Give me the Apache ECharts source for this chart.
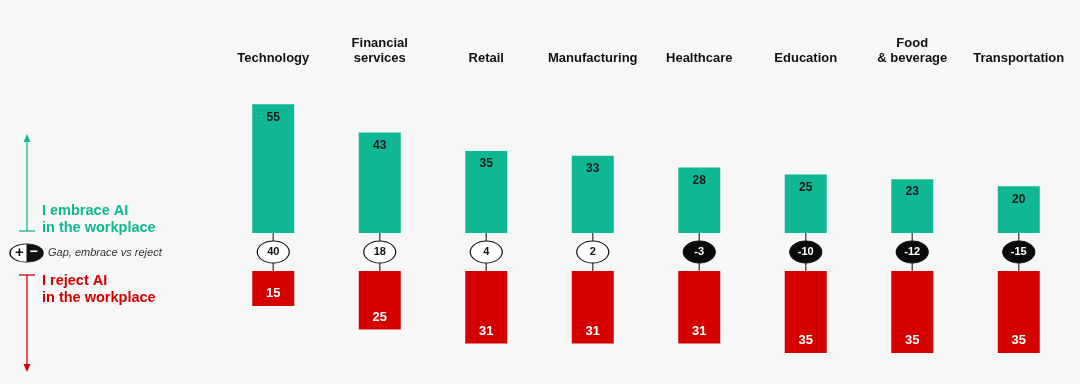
<!DOCTYPE html>
<html>
<head>
<meta charset="utf-8">
<script src="https://cdn.jsdelivr.net/npm/echarts@6/dist/echarts.min.js"></script>
<style>html,body{margin:0;padding:0;background:#f7f7f7;}#c{width:1080px;height:384px;}</style>
</head>
<body>
<div id="c"></div>
<script>
const categories = ['Technology', 'Financial\nservices', 'Retail', 'Manufacturing', 'Healthcare', 'Education', 'Food\n& beverage', 'Transportation'];
const embrace = [55, 43, 35, 33, 28, 25, 23, 20];
const reject = [15, 25, 31, 31, 31, 35, 35, 35];
const gap = [40, 18, 4, 2, -3, -10, -12, -15];
const connector = [1, 1, 1, 1, 1, 1, 1, 1];

const GREEN = '#0fb892';
const RED = '#d40000';
const FONT = 'Liberation Sans, Arial, sans-serif';
const ELLIPSE = 'path://M0,11 A16,11 0 1,1 32,11 A16,11 0 1,1 0,11 Z';

const chart = echarts.init(document.getElementById('c'), null, {renderer: 'canvas'});
const gridLeft = 220, gridWidth = 852;
const option = {
  backgroundColor: '#f7f7f7',
  animation: false,
  grid: [
    {left: gridLeft, width: gridWidth, top: 92.6, height: 140.4},
    {left: gridLeft, width: gridWidth, top: 233, height: 38},
    {left: gridLeft, width: gridWidth, top: 271, height: 93.6}
  ],
  xAxis: [
    {gridIndex: 0, type: 'category', data: categories, position: 'top',
      axisLine: {show: false}, axisTick: {show: false},
      axisLabel: {interval: 0, margin: 27, lineHeight: 15, verticalAlign: 'bottom',
        fontFamily: FONT, fontWeight: 'bold', fontSize: 13, color: '#111'}},
    {gridIndex: 1, type: 'category', data: categories, show: false},
    {gridIndex: 2, type: 'category', data: categories, show: false}
  ],
  yAxis: [
    {gridIndex: 0, type: 'value', min: 0, max: 60, show: false},
    {gridIndex: 1, type: 'value', min: 0, max: 1, show: false},
    {gridIndex: 2, type: 'value', min: 0, max: 40, inverse: true, show: false}
  ],
  series: [
    {type: 'bar', xAxisIndex: 0, yAxisIndex: 0, data: embrace, barWidth: 42,
      itemStyle: {color: GREEN},
      label: {show: true, position: 'insideTop', distance: 7, fontFamily: FONT,
        fontWeight: 'bold', fontSize: 12, color: '#1a1a1a'}},
    {type: 'bar', xAxisIndex: 2, yAxisIndex: 2, data: reject, barWidth: 42,
      itemStyle: {color: RED},
      label: {show: true, position: 'insideBottom', distance: 6, fontFamily: FONT,
        fontWeight: 'bold', fontSize: 13, color: '#fff'}},
    {type: 'bar', xAxisIndex: 1, yAxisIndex: 1, data: connector, barWidth: 1.5,
      itemStyle: {color: '#555'}, silent: true},
    {type: 'scatter', xAxisIndex: 1, yAxisIndex: 1, z: 5,
      symbol: ELLIPSE, symbolSize: [32, 22],
      data: gap.map((g, i) => ({
        value: [i, 0.5, g],
        itemStyle: {color: g >= 0 ? '#fff' : '#0a0a0a', borderColor: '#111', borderWidth: 1, opacity: 1},
        label: {color: g >= 0 ? '#111' : '#fff'}
      })),
      label: {show: true, position: 'inside', formatter: p => String(p.value[2]),
        fontFamily: FONT, fontWeight: 'bold', fontSize: 11}}
  ],
  graphic: [
    {type: 'line', shape: {x1: 27, y1: 140, x2: 27, y2: 231}, style: {stroke: GREEN, lineWidth: 1.3}},
    {type: 'polygon', shape: {points: [[27, 134], [23.5, 142], [30.5, 142]]}, style: {fill: GREEN}},
    {type: 'line', shape: {x1: 19, y1: 231, x2: 35, y2: 231}, style: {stroke: GREEN, lineWidth: 1.3}},
    {type: 'text', x: 42, y: 219, style: {text: 'I embrace AI\nin the workplace', fill: GREEN,
      font: 'bold 14.5px ' + FONT, lineHeight: 17, verticalAlign: 'middle'}},
    {type: 'line', shape: {x1: 27, y1: 275, x2: 27, y2: 365}, style: {stroke: RED, lineWidth: 1.3}},
    {type: 'polygon', shape: {points: [[27, 372], [23.5, 364], [30.5, 364]]}, style: {fill: RED}},
    {type: 'line', shape: {x1: 19, y1: 275, x2: 35, y2: 275}, style: {stroke: RED, lineWidth: 1.3}},
    {type: 'text', x: 42, y: 289.5, style: {text: 'I reject AI\nin the workplace', fill: RED,
      font: 'bold 14.5px ' + FONT, lineHeight: 17, verticalAlign: 'middle'}},
    {type: 'circle', x: 26.5, y: 253, scaleY: 0.55, shape: {cx: 0, cy: 0, r: 16.5}, style: {fill: '#fff', stroke: '#111', lineWidth: 1.5}},
    {type: 'sector', x: 26.5, y: 253, scaleY: 0.55, shape: {cx: 0, cy: 0, r0: 0, r: 16.5, startAngle: -Math.PI / 2, endAngle: Math.PI / 2}, style: {fill: '#111'}},
    {type: 'text', x: 19.5, y: 253, style: {text: '+', fill: '#111', font: 'bold 15px ' + FONT, align: 'center', verticalAlign: 'middle'}},
    {type: 'text', x: 33.5, y: 252, style: {text: '\u2212', fill: '#fff', font: 'bold 14px ' + FONT, align: 'center', verticalAlign: 'middle'}},
    {type: 'text', x: 48, y: 253, style: {text: 'Gap, embrace vs reject', fill: '#333',
      font: 'italic 11px ' + FONT, verticalAlign: 'middle'}}
  ]
};
chart.setOption(option);
</script>
</body>
</html>
